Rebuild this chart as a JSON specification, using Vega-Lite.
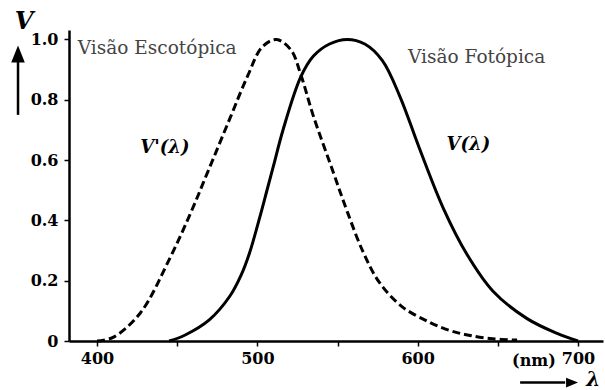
{
  "$schema": "https://vega.github.io/schema/vega-lite/v6.json",
  "width": 534,
  "height": 311,
  "autosize": "none",
  "padding": {"left": 69, "top": 30, "right": 2, "bottom": 49},
  "background": "white",
  "config": {
    "view": {"stroke": null},
    "axis": {
      "domainColor": "black", "domainWidth": 2.5,
      "tickColor": "black", "tickWidth": 1.5, "tickSize": 5,
      "labelFont": "DejaVu Serif", "labelFontWeight": "bold", "labelFontSize": 16, "labelColor": "black",
      "grid": false, "title": null
    }
  },
  "datasets": {
    "curves": [
      {"curve": "escotopica", "lambda": 400, "v": 0.0},
      {"curve": "escotopica", "lambda": 410, "v": 0.012},
      {"curve": "escotopica", "lambda": 427, "v": 0.093},
      {"curve": "escotopica", "lambda": 445, "v": 0.27},
      {"curve": "escotopica", "lambda": 458, "v": 0.42},
      {"curve": "escotopica", "lambda": 469, "v": 0.56},
      {"curve": "escotopica", "lambda": 483, "v": 0.74},
      {"curve": "escotopica", "lambda": 494, "v": 0.88},
      {"curve": "escotopica", "lambda": 503, "v": 0.975},
      {"curve": "escotopica", "lambda": 512, "v": 1.0},
      {"curve": "escotopica", "lambda": 521, "v": 0.965},
      {"curve": "escotopica", "lambda": 527, "v": 0.885},
      {"curve": "escotopica", "lambda": 535, "v": 0.745},
      {"curve": "escotopica", "lambda": 547, "v": 0.565},
      {"curve": "escotopica", "lambda": 556, "v": 0.43},
      {"curve": "escotopica", "lambda": 566, "v": 0.295},
      {"curve": "escotopica", "lambda": 576, "v": 0.195},
      {"curve": "escotopica", "lambda": 590, "v": 0.115},
      {"curve": "escotopica", "lambda": 607, "v": 0.063},
      {"curve": "escotopica", "lambda": 620, "v": 0.035},
      {"curve": "escotopica", "lambda": 631, "v": 0.02},
      {"curve": "escotopica", "lambda": 645, "v": 0.008},
      {"curve": "escotopica", "lambda": 662, "v": 0.003},
      {"curve": "fotopica", "lambda": 445, "v": 0.0},
      {"curve": "fotopica", "lambda": 455, "v": 0.02},
      {"curve": "fotopica", "lambda": 470, "v": 0.07},
      {"curve": "fotopica", "lambda": 483, "v": 0.15},
      {"curve": "fotopica", "lambda": 490, "v": 0.22},
      {"curve": "fotopica", "lambda": 495, "v": 0.29},
      {"curve": "fotopica", "lambda": 502, "v": 0.42},
      {"curve": "fotopica", "lambda": 506, "v": 0.50},
      {"curve": "fotopica", "lambda": 510, "v": 0.58},
      {"curve": "fotopica", "lambda": 516, "v": 0.70},
      {"curve": "fotopica", "lambda": 527, "v": 0.875},
      {"curve": "fotopica", "lambda": 535, "v": 0.945},
      {"curve": "fotopica", "lambda": 545, "v": 0.985},
      {"curve": "fotopica", "lambda": 556, "v": 1.0},
      {"curve": "fotopica", "lambda": 567, "v": 0.985},
      {"curve": "fotopica", "lambda": 578, "v": 0.93},
      {"curve": "fotopica", "lambda": 589, "v": 0.81},
      {"curve": "fotopica", "lambda": 601, "v": 0.64},
      {"curve": "fotopica", "lambda": 616, "v": 0.44},
      {"curve": "fotopica", "lambda": 631, "v": 0.285},
      {"curve": "fotopica", "lambda": 647, "v": 0.165},
      {"curve": "fotopica", "lambda": 668, "v": 0.075},
      {"curve": "fotopica", "lambda": 687, "v": 0.025},
      {"curve": "fotopica", "lambda": 700, "v": 0.0}
    ],
    "notes": [
      {"label": "Visão Escotópica", "lambda": 388, "v": 0.972},
      {"label": "Visão Fotópica", "lambda": 594, "v": 0.942}
    ],
    "symbols": [
      {"label": "V'(λ)", "lambda": 427, "v": 0.64},
      {"label": "V(λ)", "lambda": 618, "v": 0.65}
    ],
    "ylabel": [{"label": "V", "lambda": 354.5, "v": 1.058}],
    "xlabel": [{"label": "λ", "lambda": 709.5, "v": -0.128}],
    "unit": [{"label": "(nm)", "lambda": 672.5, "v": -0.066}],
    "yarrow": [{"lambda": 350.7, "v1": 0.75, "v2": 0.93, "tip": 0.952}],
    "xarrow": [{"v": -0.138, "l1": 663.9, "l2": 692, "tip": 696.3}]
  },
  "layer": [
    {
      "data": {"name": "curves"},
      "transform": [{"filter": "datum.curve == 'escotopica'"}],
      "mark": {"type": "line", "color": "black", "strokeWidth": 3, "strokeDash": [8, 4], "interpolate": "catmull-rom"},
      "encoding": {
        "x": {"field": "lambda", "type": "quantitative",
              "scale": {"domain": [382.5, 715.6], "nice": false, "zero": false},
              "axis": {"values": [400, 450, 500, 550, 600, 650, 700], "labelExpr": "datum.value % 100 == 0 ? datum.label : ''", "labelPadding": 4}},
        "y": {"field": "v", "type": "quantitative",
              "scale": {"domain": [0, 1.0315], "nice": false, "zero": false},
              "axis": {"values": [0, 0.2, 0.4, 0.6, 0.8, 1.0], "labelExpr": "datum.value == 0 ? '0' : format(datum.value, '.1f')", "labelPadding": 6}}
      }
    },
    {
      "data": {"name": "curves"},
      "transform": [{"filter": "datum.curve == 'fotopica'"}],
      "mark": {"type": "line", "color": "black", "strokeWidth": 3, "interpolate": "catmull-rom"},
      "encoding": {
        "x": {"field": "lambda", "type": "quantitative"},
        "y": {"field": "v", "type": "quantitative"}
      }
    },
    {
      "data": {"name": "notes"},
      "mark": {"type": "text", "align": "left", "baseline": "middle", "font": "DejaVu Serif", "fontSize": 18.5, "color": "#444"},
      "encoding": {
        "x": {"field": "lambda", "type": "quantitative"},
        "y": {"field": "v", "type": "quantitative"},
        "text": {"field": "label"}
      }
    },
    {
      "data": {"name": "symbols"},
      "mark": {"type": "text", "align": "left", "baseline": "middle", "font": "DejaVu Serif", "fontSize": 18, "fontStyle": "italic", "fontWeight": "bold", "color": "black"},
      "encoding": {
        "x": {"field": "lambda", "type": "quantitative"},
        "y": {"field": "v", "type": "quantitative"},
        "text": {"field": "label"}
      }
    },
    {
      "data": {"name": "ylabel"},
      "mark": {"type": "text", "align": "center", "baseline": "middle", "font": "DejaVu Serif", "fontSize": 24, "fontStyle": "italic", "fontWeight": "bold", "color": "black"},
      "encoding": {
        "x": {"field": "lambda", "type": "quantitative"},
        "y": {"field": "v", "type": "quantitative"},
        "text": {"field": "label"}
      }
    },
    {
      "data": {"name": "xlabel"},
      "mark": {"type": "text", "align": "center", "baseline": "middle", "font": "DejaVu Serif", "fontSize": 20, "fontStyle": "italic", "fontWeight": "bold", "color": "black"},
      "encoding": {
        "x": {"field": "lambda", "type": "quantitative"},
        "y": {"field": "v", "type": "quantitative"},
        "text": {"field": "label"}
      }
    },
    {
      "data": {"name": "unit"},
      "mark": {"type": "text", "align": "center", "baseline": "middle", "font": "DejaVu Serif", "fontSize": 16, "fontWeight": "bold", "color": "black"},
      "encoding": {
        "x": {"field": "lambda", "type": "quantitative"},
        "y": {"field": "v", "type": "quantitative"},
        "text": {"field": "label"}
      }
    },
    {
      "data": {"name": "yarrow"},
      "mark": {"type": "rule", "color": "black", "strokeWidth": 2.5},
      "encoding": {
        "x": {"field": "lambda", "type": "quantitative"},
        "y": {"field": "v1", "type": "quantitative"},
        "y2": {"field": "v2"}
      }
    },
    {
      "data": {"name": "yarrow"},
      "mark": {"type": "point", "filled": true, "color": "black", "opacity": 1, "shape": "M-0.8,1L0,-1L0.8,1Z", "size": 289},
      "encoding": {
        "x": {"field": "lambda", "type": "quantitative"},
        "y": {"field": "tip", "type": "quantitative"}
      }
    },
    {
      "data": {"name": "xarrow"},
      "mark": {"type": "rule", "color": "black", "strokeWidth": 2.5},
      "encoding": {
        "y": {"field": "v", "type": "quantitative"},
        "x": {"field": "l1", "type": "quantitative"},
        "x2": {"field": "l2"}
      }
    },
    {
      "data": {"name": "xarrow"},
      "mark": {"type": "point", "filled": true, "color": "black", "opacity": 1, "shape": "M-1,-0.8L1,0L-1,0.8Z", "size": 144},
      "encoding": {
        "x": {"field": "tip", "type": "quantitative"},
        "y": {"field": "v", "type": "quantitative"}
      }
    }
  ]
}
